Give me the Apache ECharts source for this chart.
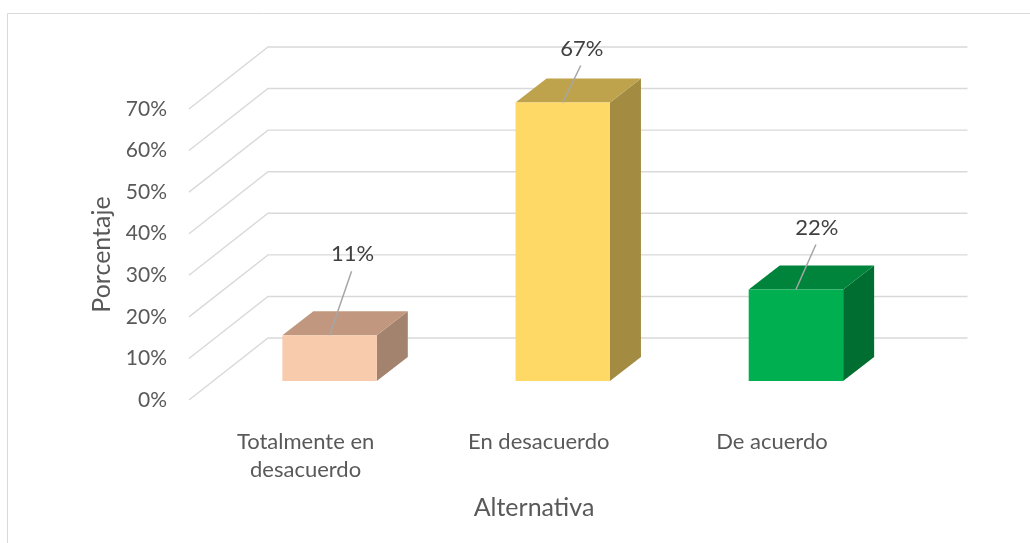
<!DOCTYPE html>
<html>
<head>
<meta charset="utf-8">
<script src="https://cdn.jsdelivr.net/npm/echarts@6/dist/echarts.min.js"></script>
<style>
  html, body { margin: 0; padding: 0; background: #fff; }
  #chart { width: 1030px; height: 543px; }
</style>
</head>
<body>
<div id="chart"></div>
<script>
// data
const categories = ['Totalmente en\ndesacuerdo', 'En desacuerdo', 'De acuerdo'];
const porcentajes = [11, 67, 22];
const yTicks = [0, 10, 20, 30, 40, 50, 60, 70];

// bar shading (front, top, side)
const frontColors = ['#F8CBAD', '#FFD966', '#00B050'];
const topColors = ['#C1987F', '#BFA34C', '#00843C'];
const sideColors = ['#A3836E', '#A38B41', '#006E30'];
// where each moved data label sits, relative to the bar top
const labelShift = [[23, -81], [19, -54], [21, -62]];

const FONT = 'Lato, "Liberation Sans", sans-serif';
const WALL = [79, -62];   // back wall offset
const PLANE = [24, -19];  // plane the bars stand on
const DEPTH = [31, -24];  // depth of a bar

let chart = echarts.init(document.getElementById('chart'));

chart.setOption({
  animation: false,
  grid: { left: 189, right: 141.5, top: 109, bottom: 143 },
  graphic: [{
    type: 'rect',
    shape: { x: 7.5, y: 13.5, width: 1100, height: 600 },
    style: { fill: 'none', stroke: '#d9d9d9', lineWidth: 1 },
    silent: true
  }],
  title: [
    {
      text: 'Alternativa', left: 529, top: 490, textAlign: 'center',
      textStyle: { fontFamily: FONT, fontSize: 25, fontWeight: 'normal', color: '#595959' }
    }
  ],
  xAxis: {
    type: 'category',
    data: categories,
    axisLine: { show: false },
    axisTick: { show: false },
    axisLabel: { margin: 28, fontFamily: FONT, fontSize: 22, lineHeight: 28, color: '#595959' }
  },
  yAxis: {
    type: 'value',
    min: 0, max: 70, interval: 10,
    name: 'Porcentaje',
    nameLocation: 'middle',
    nameGap: 74,
    nameTextStyle: { fontFamily: FONT, fontSize: 25, color: '#595959' },
    axisLine: { show: false },
    axisTick: { show: false },
    splitLine: { show: false },
    axisLabel: { margin: 22, formatter: '{value}%', fontFamily: FONT, fontSize: 21, color: '#595959' }
  },
  series: [
    {
      // walls of the 3D plot
      type: 'custom',
      silent: true,
      data: yTicks.map(function (v) { return [0, v]; }),
      renderItem: function (params, api) {
        const cs = params.coordSys;
        const y = api.coord([0, api.value(1)])[1];
        const x0 = cs.x, x1 = cs.x + cs.width;
        return {
          type: 'polyline',
          shape: { points: [[x0, y], [x0 + WALL[0], y + WALL[1]], [x1 + WALL[0], y + WALL[1]]] },
          style: { stroke: '#d9d9d9', lineWidth: 1.4, fill: 'none' }
        };
      },
      z: 1
    },
    {
      type: 'custom',
      data: porcentajes.map(function (v, i) { return [i, v]; }),
      renderItem: function (params, api) {
        const i = api.value(0);
        const base = api.coord([i, 0]);
        const top = api.coord([i, api.value(1)]);
        const w = api.size([1, 0])[0] * 0.405;
        const xL = base[0] - w / 2 + PLANE[0];
        const xR = xL + w;
        const yB = base[1] + PLANE[1];
        const yT = top[1] + PLANE[1];
        const xC = (xL + xR) / 2;
        const lab = labelShift[i];
        return {
          type: 'group',
          children: [
            {
              type: 'polygon',
              shape: { points: [[xR, yT], [xR + DEPTH[0], yT + DEPTH[1]], [xR + DEPTH[0], yB + DEPTH[1]], [xR, yB]] },
              style: { fill: sideColors[i] }
            },
            {
              type: 'polygon',
              shape: { points: [[xL, yT], [xR, yT], [xR + DEPTH[0], yT + DEPTH[1]], [xL + DEPTH[0], yT + DEPTH[1]]] },
              style: { fill: topColors[i] }
            },
            {
              type: 'rect',
              shape: { x: xL, y: yT, width: w, height: yB - yT },
              style: { fill: frontColors[i] }
            },
            {
              type: 'line',
              shape: { x1: xC, y1: yT, x2: xC + lab[0] - 1, y2: yT + lab[1] + 17 },
              style: { stroke: '#a6a6a6', lineWidth: 1.5 }
            },
            {
              type: 'text',
              x: xC + lab[0], y: yT + lab[1],
              style: {
                text: api.value(1) + '%',
                align: 'center', verticalAlign: 'middle',
                font: '22px ' + FONT, fill: '#404040'
              }
            }
          ]
        };
      },
      z: 2
    }
  ]
});
</script>
</body>
</html>
